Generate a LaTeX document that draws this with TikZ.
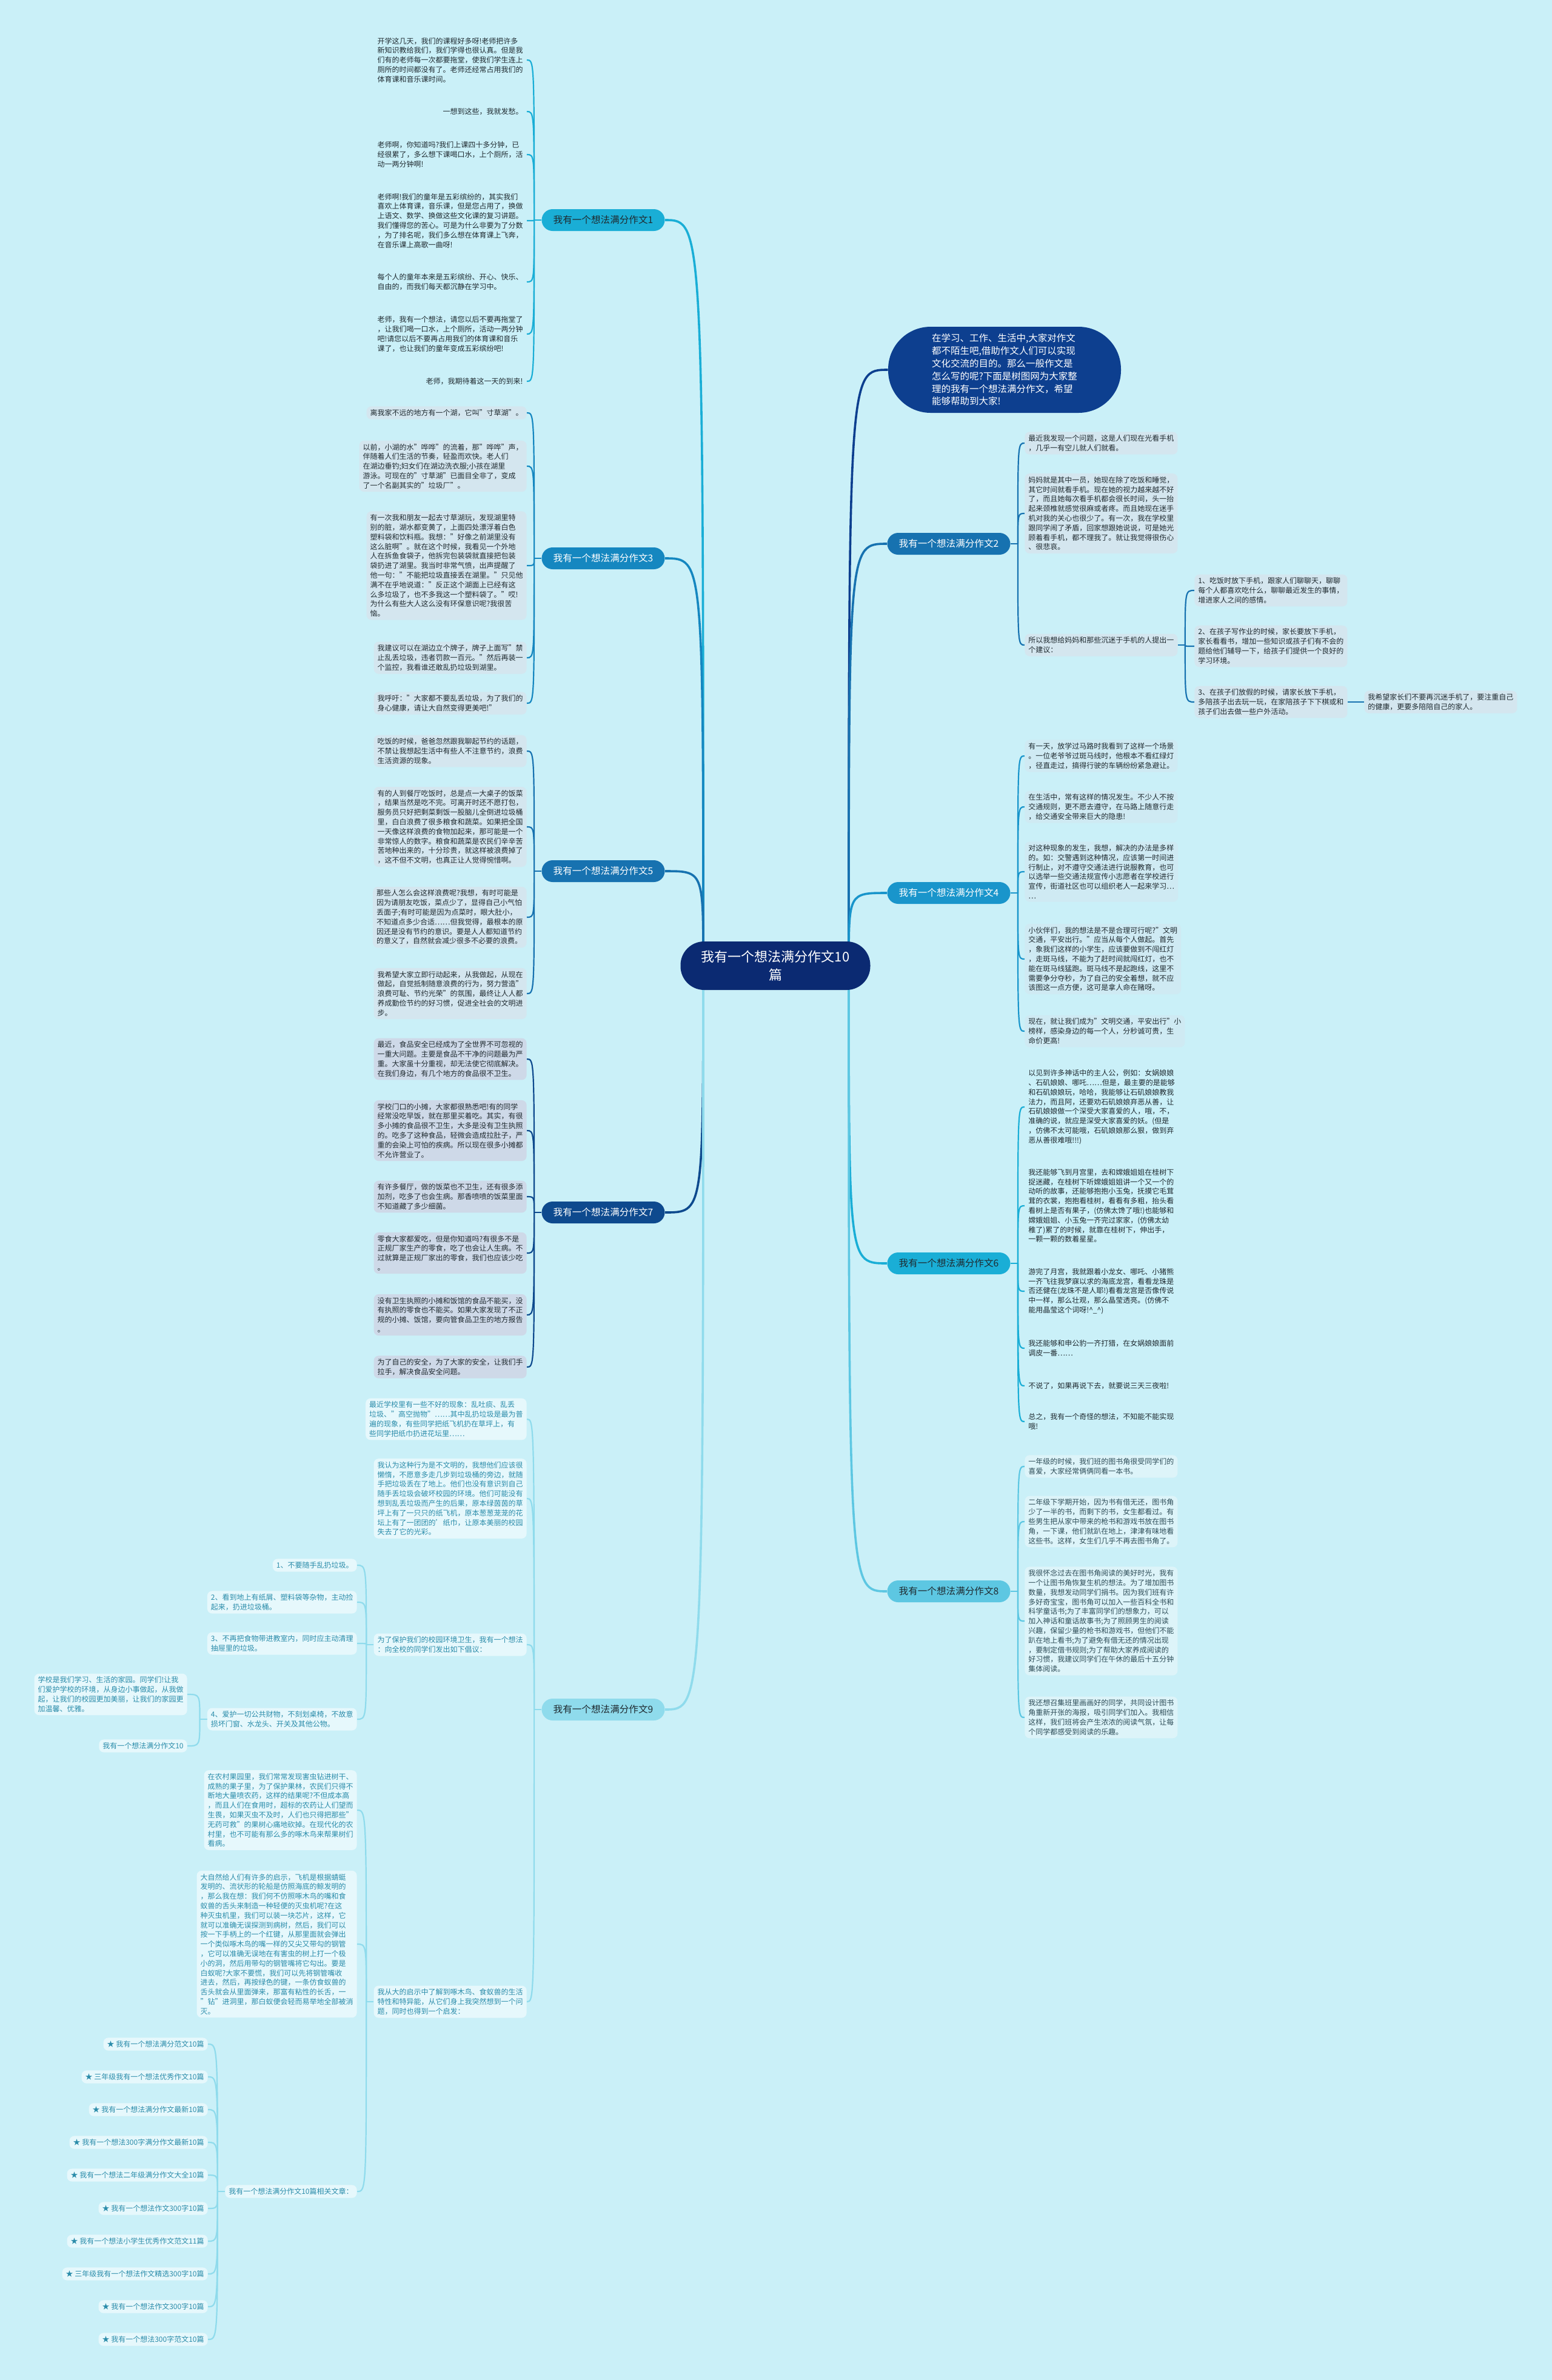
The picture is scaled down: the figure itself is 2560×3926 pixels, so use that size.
\documentclass[tikz,border=0pt]{standalone}
\usepackage{fontspec}
\setmainfont{Noto Sans CJK SC}
\usepackage{xcolor}
\usepackage{tikz}
\usetikzlibrary{backgrounds}

\definecolor{bgc}{HTML}{CAF0F8}
\definecolor{rootblue}{HTML}{0B2A72}
\definecolor{introblue}{HTML}{0D3F8F}
\definecolor{cA}{HTML}{1AAED6}
\definecolor{cB}{HTML}{1587C0}
\definecolor{cC}{HTML}{1772B0}
\definecolor{cD}{HTML}{0E4A8E}
\definecolor{cE}{HTML}{8FDBEC}
\definecolor{cF}{HTML}{1995CB}
\definecolor{cG}{HTML}{5DC7E2}
\definecolor{fillB}{HTML}{D4E6EF}
\definecolor{fillD}{HTML}{CED9E8}
\definecolor{fillF}{HTML}{CFEAF3}
\definecolor{fillG}{HTML}{DDF4F9}
\definecolor{fillE}{HTML}{E6F8FC}
\definecolor{inkdark}{HTML}{1F2A30}
\definecolor{inkteal}{HTML}{2A8CAA}
\definecolor{inkgrey}{HTML}{2E4D58}

\begin{document}
\begin{tikzpicture}[x=0.5pt, y=-0.5pt,
    root/.style={rectangle, rounded corners=19.5pt, fill=rootblue, text=white, align=center, font=\fontsize{11}{15}\selectfont, minimum width=156.5pt, minimum height=40pt, inner sep=2pt},
    intro/.style={rectangle, rounded corners=35pt, fill=introblue, text=white, align=left, font=\fontsize{7.75}{10.4}\selectfont, minimum width=192pt, minimum height=71pt, inner sep=2pt},
    topic/.style={rectangle, rounded corners=9pt, align=center, font=\fontsize{7.8}{9}\selectfont, minimum width=101.5pt, minimum height=18pt, inner sep=1pt},
    leaf/.style={rectangle, rounded corners=4pt, align=left, font=\fontsize{6}{7.9}\selectfont, inner xsep=3pt, inner ysep=2.5pt, text=inkdark},
    leaf_l/.style={leaf, anchor=east},
    leaf_r/.style={leaf, anchor=west},
    leaf3/.style={leaf_l, fill=fillB},
    leaf7/.style={leaf_l, fill=fillD},
    leaf9/.style={leaf, anchor=east, fill=fillE, text=inkteal},
    leaf2/.style={leaf_r, fill=fillB},
    leaf4/.style={leaf_r, fill=fillF},
    leaf8/.style={leaf_r, fill=fillG, text=inkgrey},
    trunk/.style={line width=1.8pt},
    twig/.style={line width=1.1pt}
]
    \useasboundingbox (0,0) rectangle (2560,3926);

    % 中心主题与导语
    \node[root] (root) at (1279,1593) {我有一个想法满分作文10\\篇};
    \node[intro] (intro) at (1657,610) {在学习、工作、生活中,大家对作文\\都不陌生吧,借助作文人们可以实现\\文化交流的目的。那么一般作文是\\怎么写的呢?下面是树图网为大家整\\理的我有一个想法满分作文，希望\\能够帮助到大家!};

    % 分支主题
    \node[topic, fill=cA, text=inkdark] (t1) at (995,363) {我有一个想法满分作文1};
    \node[topic, fill=cB, text=white] (t3) at (995,921) {我有一个想法满分作文3};
    \node[topic, fill=cC, text=white] (t5) at (995,1437) {我有一个想法满分作文5};
    \node[topic, fill=cD, text=white] (t7) at (995,2000) {我有一个想法满分作文7};
    \node[topic, fill=cE, text=inkdark] (t9) at (995,2820) {我有一个想法满分作文9};
    \node[topic, fill=cC, text=white] (t2) at (1565,897) {我有一个想法满分作文2};
    \node[topic, fill=cF, text=white] (t4) at (1565,1473) {我有一个想法满分作文4};
    \node[topic, fill=cA, text=inkdark] (t6) at (1565,2084) {我有一个想法满分作文6};
    \node[topic, fill=cG, text=inkdark] (t8) at (1565,2625) {我有一个想法满分作文8};

    % 作文1
    \node[leaf_l] (s1a) at (869,99) {开学这几天，我们的课程好多呀!老师把许多\\新知识教给我们，我们学得也很认真。但是我\\们有的老师每一次都要拖堂，使我们学生连上\\厕所的时间都没有了。老师还经常占用我们的\\体育课和音乐课时间。};
    \node[leaf_l] (s1b) at (869,184) {一想到这些，我就发愁。};
    \node[leaf_l] (s1c) at (869,255) {老师啊，你知道吗?我们上课四十多分钟，已\\经很累了，多么想下课喝口水，上个厕所，活\\动一两分钟啊!};
    \node[leaf_l] (s1d) at (869,364) {老师啊!我们的童年是五彩缤纷的，其实我们\\喜欢上体育课，音乐课，但是您占用了，换做\\上语文、数学、换做这些文化课的复习讲题。\\我们懂得您的苦心。可是为什么非要为了分数\\，为了排名呢，我们多么想在体育课上飞奔，\\在音乐课上高歌一曲呀!};
    \node[leaf_l] (s1e) at (869,465) {每个人的童年本来是五彩缤纷、开心、快乐、\\自由的，而我们每天都沉静在学习中。};
    \node[leaf_l] (s1f) at (869,551) {老师，我有一个想法，请您以后不要再拖堂了\\，让我们喝一口水，上个厕所，活动一两分钟\\吧!请您以后不要再占用我们的体育课和音乐\\课了，也让我们的童年变成五彩缤纷吧!};
    \node[leaf_l] (s1g) at (869,629) {老师，我期待着这一天的到来!};

    % 作文3
    \node[leaf3] (s3a) at (869,681) {离我家不远的地方有一个湖，它叫"寸草湖"。};
    \node[leaf3] (s3b) at (869,769) {以前，小湖的水"哗哗"的流着，那"哗哗"声，\\伴随着人们生活的节奏，轻盈而欢快。老人们\\在湖边垂钓;妇女们在湖边洗衣服;小孩在湖里\\游泳。可现在的"寸草湖"已面目全非了，变成\\了一个名副其实的"垃圾厂"。};
    \node[leaf3] (s3c) at (869,933) {有一次我和朋友一起去寸草湖玩，发现湖里特\\别的脏，湖水都变黄了，上面四处漂浮着白色\\塑料袋和饮料瓶。我想："好像之前湖里没有\\这么脏啊"。就在这个时候，我看见一个外地\\人在拆鱼食袋子，他拆完包装袋就直接把包装\\袋扔进了湖里。我当时非常气愤，出声提醒了\\他一句："不能把垃圾直接丢在湖里。"只见他\\满不在乎地说道："反正这个湖面上已经有这\\么多垃圾了，也不多我这一个塑料袋了。"哎!\\为什么有些大人这么没有环保意识呢?我很苦\\恼。};
    \node[leaf3] (s3d) at (869,1085) {我建议可以在湖边立个牌子，牌子上面写"禁\\止乱丢垃圾，违者罚款一百元。"然后再装一\\个监控，我看谁还敢乱扔垃圾到湖里。};
    \node[leaf3] (s3e) at (869,1160) {我呼吁："大家都不要乱丢垃圾，为了我们的\\身心健康，请让大自然变得更美吧!"};

    % 作文5
    \node[leaf3] (s5a) at (869,1239) {吃饭的时候，爸爸忽然跟我聊起节约的话题，\\不禁让我想起生活中有些人不注意节约，浪费\\生活资源的现象。};
    \node[leaf3] (s5b) at (869,1364) {有的人到餐厅吃饭时，总是点一大桌子的饭菜\\，结果当然是吃不完。可离开时还不愿打包，\\服务员只好把剩菜剩饭一股脑儿全倒进垃圾桶\\里，白白浪费了很多粮食和蔬菜。如果把全国\\一天像这样浪费的食物加起来，那可能是一个\\非常惊人的数字。粮食和蔬菜是农民们辛辛苦\\苦地种出来的，十分珍贵，就这样被浪费掉了\\，这不但不文明，也真正让人觉得惋惜啊。};
    \node[leaf3] (s5c) at (869,1513) {那些人怎么会这样浪费呢?我想，有时可能是\\因为请朋友吃饭，菜点少了，显得自己小气怕\\丢面子;有时可能是因为点菜时，眼大肚小，\\不知道点多少合适……但我觉得，最根本的原\\因还是没有节约的意识。要是人人都知道节约\\的意义了，自然就会减少很多不必要的浪费。};
    \node[leaf3] (s5d) at (869,1639) {我希望大家立即行动起来，从我做起，从现在\\做起，自觉抵制随意浪费的行为，努力营造"\\浪费可耻、节约光荣"的氛围，最终让人人都\\养成勤俭节约的好习惯，促进全社会的文明进\\步。};

    % 作文7
    \node[leaf7] (s7a) at (869,1747) {最近，食品安全已经成为了全世界不可忽视的\\一重大问题。主要是食品不干净的问题最为严\\重。大家虽十分重视，却无法使它彻底解决。\\在我们身边，有几个地方的食品很不卫生。};
    \node[leaf7] (s7b) at (869,1865) {学校门口的小摊，大家都很熟悉吧!有的同学\\经常没吃早饭，就在那里买着吃。其实，有很\\多小摊的食品很不卫生，大多是没有卫生执照\\的。吃多了这种食品，轻微会造成拉肚子，严\\重的会染上可怕的疾病。所以现在很多小摊都\\不允许营业了。};
    \node[leaf7] (s7c) at (869,1974) {有许多餐厅，做的饭菜也不卫生，还有很多添\\加剂，吃多了也会生病。那香喷喷的饭菜里面\\不知道藏了多少细菌。};
    \node[leaf7] (s7d) at (869,2067) {零食大家都爱吃，但是你知道吗?有很多不是\\正规厂家生产的零食，吃了也会让人生病。不\\过就算是正规厂家出的零食，我们也应该少吃\\。};
    \node[leaf7] (s7e) at (869,2169) {没有卫生执照的小摊和饭馆的食品不能买，没\\有执照的零食也不能买。如果大家发现了不正\\规的小摊、饭馆，要向管食品卫生的地方报告\\。};
    \node[leaf7] (s7f) at (869,2255) {为了自己的安全，为了大家的安全，让我们手\\拉手，解决食品安全问题。};

    % 作文9
    \node[leaf9] (s9a) at (869,2341) {最近学校里有一些不好的现象：乱吐痰、乱丢\\垃圾、"高空抛物"……其中乱扔垃圾是最为普\\遍的现象，有些同学把纸飞机扔在草坪上，有\\些同学把纸巾扔进花坛里……};
    \node[leaf9] (s9b) at (869,2472) {我认为这种行为是不文明的，我想他们应该很\\懒惰，不愿意多走几步到垃圾桶的旁边，就随\\手把垃圾丢在了地上。他们也没有意识到自己\\随手丢垃圾会破坏校园的环境。他们可能没有\\想到乱丢垃圾而产生的后果，原本绿茵茵的草\\坪上有了一只只的纸飞机，原本葱葱茏茏的花\\坛上有了一团团的'纸巾，让原本美丽的校园\\失去了它的光彩。};
    \node[leaf9] (s9c) at (869,2713) {为了保护我们的校园环境卫生，我有一个想法\\：向全校的同学们发出如下倡议：};
    \node[leaf9] (s9d) at (869,3302) {我从大的启示中了解到啄木鸟、食蚁兽的生活\\特性和特异能，从它们身上我突然想到一个问\\题，同时也得到一个启发：};

    \node[leaf9] (p1) at (589,2582) {1、不要随手乱扔垃圾。};
    \node[leaf9] (p2) at (589,2643) {2、看到地上有纸屑、塑料袋等杂物，主动捡\\起来，扔进垃圾桶。};
    \node[leaf9] (p3) at (589,2711) {3、不再把食物带进教室内，同时应主动清理\\抽屉里的垃圾。};
    \node[leaf9] (p4) at (589,2836) {4、爱护一切公共财物，不刻划桌椅，不故意\\损坏门窗、水龙头、开关及其他公物。};
    \node[leaf9] (p4a) at (309,2795) {学校是我们学习、生活的家园。同学们!让我\\们爱护学校的环境，从身边小事做起，从我做\\起，让我们的校园更加美丽，让我们的家园更\\加温馨、优雅。};
    \node[leaf9] (p4b) at (309,2880) {我有一个想法满分作文10};

    \node[leaf9] (q1) at (589,2986) {在农村果园里，我们常常发现害虫钻进树干、\\成熟的果子里，为了保护果林，农民们只得不\\断地大量喷农药，这样的结果呢?不但成本高\\，而且人们在食用时，超标的农药让人们望而\\生畏，如果灭虫不及时，人们也只得把那些"\\无药可救"的果树心痛地砍掉。在现代化的农\\村里，也不可能有那么多的啄木鸟来帮果树们\\看病。};
    \node[leaf9] (q2) at (589,3207) {大自然给人们有许多的启示，飞机是根据蜻蜓\\发明的、流状形的轮船是仿照海底的鲸发明的\\，那么我在想：我们何不仿照啄木鸟的嘴和食\\蚁兽的舌头来制造一种轻便的灭虫机呢?在这\\种灭虫机里，我们可以装一块芯片，这样，它\\就可以准确无误探测到病树，然后，我们可以\\按一下手柄上的一个红键，从那里面就会弹出\\一个类似啄木鸟的嘴一样的又尖又带勾的钢管\\，它可以准确无误地在有害虫的树上打一个极\\小的洞，然后用带勾的钢管嘴将它勾出。要是\\白蚁呢?大家不要慌，我们可以先将钢管嘴收\\进去，然后，再按绿色的键，一条仿食蚁兽的\\舌头就会从里面弹来，那富有粘性的长舌，一\\"钻"进洞里，那白蚁便会轻而易举地全部被消\\灭。};
    \node[leaf9] (q3) at (589,3615) {我有一个想法满分作文10篇相关文章：};

    \node[leaf9] (r1) at (343,3372) {★ 我有一个想法满分范文10篇};
    \node[leaf9] (r2) at (343,3426) {★ 三年级我有一个想法优秀作文10篇};
    \node[leaf9] (r3) at (343,3480) {★ 我有一个想法满分作文最新10篇};
    \node[leaf9] (r4) at (343,3534) {★ 我有一个想法300字满分作文最新10篇};
    \node[leaf9] (r5) at (343,3588) {★ 我有一个想法二年级满分作文大全10篇};
    \node[leaf9] (r6) at (343,3643) {★ 我有一个想法作文300字10篇};
    \node[leaf9] (r7) at (343,3697) {★ 我有一个想法小学生优秀作文范文11篇};
    \node[leaf9] (r8) at (343,3751) {★ 三年级我有一个想法作文精选300字10篇};
    \node[leaf9] (r9) at (343,3805) {★ 我有一个想法作文300字10篇};
    \node[leaf9] (r10) at (343,3859) {★ 我有一个想法300字范文10篇};

    % 作文2
    \node[leaf2] (s2a) at (1690,731) {最近我发现一个问题，这是人们现在光看手机\\，几乎一有空儿就人们就看。};
    \node[leaf2] (s2b) at (1690,847) {妈妈就是其中一员，她现在除了吃饭和睡觉，\\其它时间就看手机。现在她的视力越来越不好\\了，而且她每次看手机都会很长时间，头一抬\\起来颈椎就感觉很麻或者疼。而且她现在迷手\\机对我的关心也很少了。有一次，我在学校里\\跟同学闹了矛盾，回家想跟她说说，可是她光\\顾着看手机，都不理我了。就让我觉得很伤心\\、很悲哀。};
    \node[leaf2] (s2c) at (1690,1064) {所以我想给妈妈和那些沉迷于手机的人提出一\\个建议：};
    \node[leaf2] (u1) at (1970,974) {1、吃饭时放下手机，跟家人们聊聊天，聊聊\\每个人都喜欢吃什么，聊聊最近发生的事情，\\增进家人之间的感情。};
    \node[leaf2] (u2) at (1970,1066) {2、在孩子写作业的时候，家长要放下手机，\\家长看看书，增加一些知识或孩子们有不会的\\题给他们辅导一下，给孩子们提供一个良好的\\学习环境。};
    \node[leaf2] (u3) at (1970,1158) {3、在孩子们放假的时候，请家长放下手机，\\多陪孩子出去玩一玩，在家陪孩子下下棋或和\\孩子们出去做一些户外活动。};
    \node[leaf2] (u3a) at (2250,1158) {我希望家长们不要再沉迷手机了，要注重自己\\的健康，更要多陪陪自己的家人。};

    % 作文4
    \node[leaf4] (s4a) at (1690,1247) {有一天，放学过马路时我看到了这样一个场景\\。一位老爷爷过斑马线时，他根本不看红绿灯\\，径直走过，搞得行驶的车辆纷纷紧急避让。};
    \node[leaf4] (s4b) at (1690,1331) {在生活中，常有这样的情况发生。不少人不按\\交通规则，更不愿去遵守，在马路上随意行走\\，给交通安全带来巨大的隐患!};
    \node[leaf4] (s4c) at (1690,1438) {对这种现象的发生，我想，解决的办法是多样\\的。如：交警遇到这种情况，应该第一时间进\\行制止，对不遵守交通法进行说服教育，也可\\以选举一些交通法规宣传小志愿者在学校进行\\宣传，街道社区也可以组织老人一起来学习…\\…};
    \node[leaf4] (s4d) at (1690,1582) {小伙伴们，我的想法是不是合理可行呢?"文明\\交通，平安出行。"应当从每个人做起。首先\\，象我们这样的小学生，应该要做到不闯红灯\\，走斑马线，不能为了赶时间就闯红灯，也不\\能在斑马线猛跑。斑马线不是起跑线，这里不\\需要争分夺秒，为了自己的安全着想，就不应\\该图这一点方便，这可是拿人命在赌呀。};
    \node[leaf4] (s4e) at (1690,1701) {现在，就让我们成为"文明交通，平安出行"小\\榜样，感染身边的每一个人，分秒诚可贵，生\\命价更高!};

    % 作文6
    \node[leaf_r] (s6a) at (1690,1826) {以见到许多神话中的主人公，例如：女娲娘娘\\、石矶娘娘、哪吒……但是，最主要的是能够\\和石矶娘娘玩，哈哈，我能够让石矶娘娘教我\\法力，而且阿，还要劝石矶娘娘弃恶从善，让\\石矶娘娘做一个深受大家喜爱的人，哦，不，\\准确的说，就应是深受大家喜爱的妖。(但是\\，仿佛不太可能哦，石矶娘娘那么狠，做到弃\\恶从善很难哦!!!)};
    \node[leaf_r] (s6b) at (1690,1989) {我还能够飞到月宫里，去和嫦娥姐姐在桂树下\\捉迷藏，在桂树下听嫦娥姐姐讲一个又一个的\\动听的故事，还能够抱抱小玉兔，抚摸它毛茸\\茸的衣裳，抱抱看桂树，看看有多粗，抬头看\\看树上是否有果子，(仿佛太馋了哦!)也能够和\\嫦娥姐姐、小玉兔一齐完过家家，(仿佛太幼\\稚了)累了的时候，就靠在桂树下，伸出手，\\一颗一颗的数着星星。};
    \node[leaf_r] (s6c) at (1690,2130) {游完了月宫，我就跟着小龙女、哪吒、小猪熊\\一齐飞往我梦寐以求的海底龙宫，看看龙珠是\\否还健在(龙珠不是人耶!)看看龙宫是否像传说\\中一样，那么壮观，那么晶莹透亮。(仿佛不\\能用晶莹这个词呀!\textasciicircum\_\textasciicircum)};
    \node[leaf_r] (s6d) at (1690,2224) {我还能够和申公豹一齐打猎，在女娲娘娘面前\\调皮一番……};
    \node[leaf_r] (s6e) at (1690,2286) {不说了，如果再说下去，就要说三天三夜啦!};
    \node[leaf_r] (s6f) at (1690,2345) {总之，我有一个奇怪的想法，不知能不能实现\\哦!};

    % 作文8
    \node[leaf8] (s8a) at (1690,2419) {一年级的时候，我们班的图书角很受同学们的\\喜爱，大家经常俩俩同看一本书。};
    \node[leaf8] (s8b) at (1690,2510) {二年级下学期开始，因为书有借无还，图书角\\少了一半的书，而剩下的书，女生都看过。有\\些男生把从家中带来的枪书和游戏书放在图书\\角，一下课，他们就趴在地上，津津有味地看\\这些书。这样，女生们几乎不再去图书角了。};
    \node[leaf8] (s8c) at (1690,2674) {我很怀念过去在图书角阅读的美好时光，我有\\一个让图书角恢复生机的想法。为了增加图书\\数量，我想发动同学们捐书。因为我们班有许\\多好奇宝宝，图书角可以加入一些百科全书和\\科学童话书;为了丰富同学们的想象力，可以\\加入神话和童话故事书;为了照顾男生的阅读\\兴趣，保留少量的枪书和游戏书，但他们不能\\趴在地上看书;为了避免有借无还的情况出现\\，要制定借书规则;为了帮助大家养成阅读的\\好习惯，我建议同学们在午休的最后十五分钟\\集体阅读。};
    \node[leaf8] (s8d) at (1690,2833) {我还想召集班里画画好的同学，共同设计图书\\角重新开张的海报，吸引同学们加入。我相信\\这样，我们班将会产生浓浓的阅读气氛，让每\\个同学都感受到阅读的乐趣。};

    % 连线（放在背景层）
    \begin{scope}[on background layer]
        \fill[bgc] (0,0) rectangle (2560,3926);

        % 中心到各分支
        \coordinate (rl) at (1160,1593);
        \coordinate (rr) at (1400,1593);
        \draw[trunk, draw=introblue] (rr) .. controls (rr |- intro.west) .. (intro.west);
        \draw[trunk, draw=cA] (rl) .. controls (rl |- t1.east) .. (t1.east);
        \draw[trunk, draw=cB] (rl) .. controls (rl |- t3.east) .. (t3.east);
        \draw[trunk, draw=cC] (rl) .. controls (rl |- t5.east) .. (t5.east);
        \draw[trunk, draw=cD] (rl) .. controls (rl |- t7.east) .. (t7.east);
        \draw[trunk, draw=cE] (rl) .. controls (rl |- t9.east) .. (t9.east);
        \draw[trunk, draw=cC] (rr) .. controls (rr |- t2.west) .. (t2.west);
        \draw[trunk, draw=cF] (rr) .. controls (rr |- t4.west) .. (t4.west);
        \draw[trunk, draw=cA] (rr) .. controls (rr |- t6.west) .. (t6.west);
        \draw[trunk, draw=cG] (rr) .. controls (rr |- t8.west) .. (t8.west);

        % 左侧分支
        \coordinate (j1) at ([xshift=-6pt]t1.west);
        \draw[twig, draw=cA] (t1.west) -- (j1);
        \foreach \n in {s1a,s1b,s1c,s1d,s1e,s1f,s1g}
            \draw[twig, draw=cA] (j1) .. controls (j1 |- \n.east) .. (\n.east);

        \coordinate (j3) at ([xshift=-6pt]t3.west);
        \draw[twig, draw=cB] (t3.west) -- (j3);
        \foreach \n in {s3a,s3b,s3c,s3d,s3e}
            \draw[twig, draw=cB] (j3) .. controls (j3 |- \n.east) .. (\n.east);

        \coordinate (j5) at ([xshift=-6pt]t5.west);
        \draw[twig, draw=cC] (t5.west) -- (j5);
        \foreach \n in {s5a,s5b,s5c,s5d}
            \draw[twig, draw=cC] (j5) .. controls (j5 |- \n.east) .. (\n.east);

        \coordinate (j7) at ([xshift=-6pt]t7.west);
        \draw[twig, draw=cD] (t7.west) -- (j7);
        \foreach \n in {s7a,s7b,s7c,s7d,s7e,s7f}
            \draw[twig, draw=cD] (j7) .. controls (j7 |- \n.east) .. (\n.east);

        \coordinate (j9) at ([xshift=-6pt]t9.west);
        \draw[twig, draw=cE] (t9.west) -- (j9);
        \foreach \n in {s9a,s9b,s9c,s9d}
            \draw[twig, draw=cE] (j9) .. controls (j9 |- \n.east) .. (\n.east);

        \coordinate (jp) at ([xshift=-6pt]s9c.west);
        \draw[twig, draw=cE] (s9c.west) -- (jp);
        \foreach \n in {p1,p2,p3,p4}
            \draw[twig, draw=cE] (jp) .. controls (jp |- \n.east) .. (\n.east);

        \coordinate (jp4) at ([xshift=-6pt]p4.west);
        \draw[twig, draw=cE] (p4.west) -- (jp4);
        \foreach \n in {p4a,p4b}
            \draw[twig, draw=cE] (jp4) .. controls (jp4 |- \n.east) .. (\n.east);

        \coordinate (jq) at ([xshift=-6pt]s9d.west);
        \draw[twig, draw=cE] (s9d.west) -- (jq);
        \foreach \n in {q1,q2,q3}
            \draw[twig, draw=cE] (jq) .. controls (jq |- \n.east) .. (\n.east);

        \coordinate (jr) at ([xshift=-6pt]q3.west);
        \draw[twig, draw=cE] (q3.west) -- (jr);
        \foreach \n in {r1,r2,r3,r4,r5,r6,r7,r8,r9,r10}
            \draw[twig, draw=cE] (jr) .. controls (jr |- \n.east) .. (\n.east);

        % 右侧分支
        \coordinate (j2) at ([xshift=6pt]t2.east);
        \draw[twig, draw=cC] (t2.east) -- (j2);
        \foreach \n in {s2a,s2b,s2c}
            \draw[twig, draw=cC] (j2) .. controls (j2 |- \n.west) .. (\n.west);

        \coordinate (ju) at ([xshift=6pt]s2c.east);
        \draw[twig, draw=cC] (s2c.east) -- (ju);
        \foreach \n in {u1,u2,u3}
            \draw[twig, draw=cC] (ju) .. controls (ju |- \n.west) .. (\n.west);
        \draw[twig, draw=cC] (u3.east) -- (u3a.west);

        \coordinate (j4) at ([xshift=6pt]t4.east);
        \draw[twig, draw=cF] (t4.east) -- (j4);
        \foreach \n in {s4a,s4b,s4c,s4d,s4e}
            \draw[twig, draw=cF] (j4) .. controls (j4 |- \n.west) .. (\n.west);

        \coordinate (j6) at ([xshift=6pt]t6.east);
        \draw[twig, draw=cA] (t6.east) -- (j6);
        \foreach \n in {s6a,s6b,s6c,s6d,s6e,s6f}
            \draw[twig, draw=cA] (j6) .. controls (j6 |- \n.west) .. (\n.west);

        \coordinate (j8) at ([xshift=6pt]t8.east);
        \draw[twig, draw=cG] (t8.east) -- (j8);
        \foreach \n in {s8a,s8b,s8c,s8d}
            \draw[twig, draw=cG] (j8) .. controls (j8 |- \n.west) .. (\n.west);
    \end{scope}
\end{tikzpicture}
\end{document}
